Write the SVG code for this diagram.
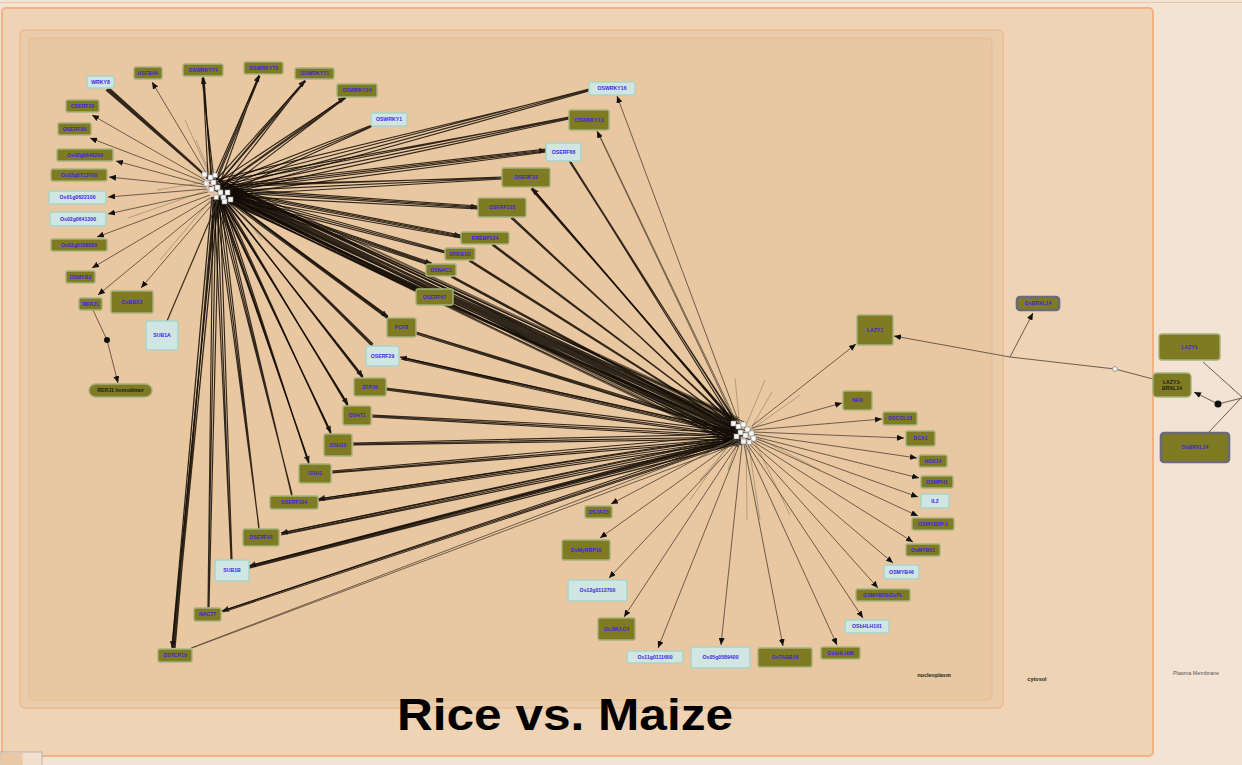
<svg xmlns="http://www.w3.org/2000/svg" width="1242" height="765" viewBox="0 0 1242 765">
  <style>
    .o { fill: #7f7b22; stroke: #a4b27c; stroke-width: 1.4; }
    .b { fill: #cfe6e2; stroke: #a9d5c8; stroke-width: 1.4; }
    .g { fill: #7f7b22; stroke: #6d6a78; stroke-width: 2.6; }
    .l { font-family: "Liberation Sans", Arial, sans-serif; font-size: 5.2px; font-weight: bold; fill: #3d1fe0; text-anchor: middle; }
    .dk { fill: #1a1a1a; }
    .bd { stroke: #120c05; stroke-width: 1.15; fill: none; opacity: 0.86; }
    .tn { stroke: #5f503f; stroke-width: 0.9; fill: none; }
    .st { stroke: #8a7560; stroke-width: 1; fill: none; opacity: 0.55; }
    .rx { stroke: #6b5d4d; stroke-width: 1; fill: none; }
    .cl { font-family: "Liberation Sans", Arial, sans-serif; font-size: 5.5px; font-weight: bold; fill: #222; text-anchor: middle; }
    .hs { fill: #fafafa; stroke: #8a8a8a; stroke-width: 0.6; }
  </style>
  <defs>
    <marker id="arr" markerWidth="7" markerHeight="6" refX="7" refY="3" orient="auto" markerUnits="userSpaceOnUse">
      <path d="M0,0 L7,3 L0,6 z" fill="#111"/>
    </marker>
  </defs>

  <!-- compartments -->
  <g id="compartments">
    <rect x="0" y="0" width="1242" height="765" fill="#f3e3d3"/>
    <line x1="0" y1="2.5" x2="1242" y2="2.5" stroke="#e4c6a8" stroke-width="1"/>
    <rect x="2" y="8" width="1151" height="748" rx="4" fill="#eed3b4" stroke="#efb383" stroke-width="2"/>
    <rect x="20" y="30" width="983" height="678" rx="5" fill="#ebccaa" stroke="#eabb92" stroke-width="1.5"/>
    <rect x="29" y="38" width="963" height="662" rx="4" fill="#e8c7a1" stroke="#e4bd96" stroke-width="1"/>
    <rect x="0" y="752" width="42" height="14" fill="#f1dfcd" stroke="#a0a0a0" stroke-width="0.7"/>
    <rect x="0.5" y="753" width="22" height="12" fill="#eac8a6"/>
    <text class="cl" x="934" y="677">nucleoplasm</text>
    <text class="cl" x="1037" y="681">cytosol</text>
    <text class="cl" x="1196" y="675" style="font-weight:normal;fill:#555">Plasma Membrane</text>
  </g>

  <!-- connectors -->
  <g id="connectors">
    <!-- short edges near the hubs -->
    <path class="st" d="M206,182L157,190M208,190L128,218M210,176L185,120M212,178L196,140M214,196L160,260M220,200L205,280M230,196L262,240"/>
    <path class="st" d="M746,432L747,520M740,433L700,480M752,436L790,515M744,430L765,380M740,428L735,378M748,432L800,395M736,434L690,500M754,436L820,470M748,440L760,520M742,430L728,470M750,430L772,392"/>

    <!-- hub to hub -->
    <path class="bd" d="M206,176L734,424M213,183L741,429M221,191L749,435M227,198L744,442M217,197L737,437M206,178L741,431M213,185L737,437M221,193L734,424M227,196L749,435M210,180L744,442M224,190L740,426M216,188L746,438M230,197L736,430M208,182L750,440M219,186L743,433M226,186L738,425M229,200L745,437M212,176L733,428M218,180L739,421M223,184L747,428M231,192L742,445M214,190L735,440M225,199L739,446M209,186L748,432M233,188L737,419M220,194L731,432"/>
    <path class="bd" style="opacity:0.6" d="M230,182L733,420M232,186L731,426M228,195L736,444M232,198L733,440M235,190L739,418M226,200L738,447M236,196L730,436M234,184L744,422"/>

    <!-- left hub, upper targets -->
    <path class="bd" style="stroke-width:1.3" d="M204,175L107,89M207,177L108,89M209,179L106,90M211,180L109,88"/>
    <path class="bd" d="M208,176L203,78M211,178L204,78M214,180L202,78"/>
    <line class="bd" x1="212" y1="179" x2="203" y2="77" marker-end="url(#arr)"/>
    <path class="bd" d="M214,178L259,76M217,180L260,76M220,183L258,77"/>
    <line class="bd" x1="216" y1="179" x2="259" y2="75" marker-end="url(#arr)"/>
    <path class="bd" d="M216,180L305,81M219,183L306,81M223,186L304,82"/>
    <line class="bd" x1="219" y1="182" x2="305" y2="80" marker-end="url(#arr)"/>
    <path class="bd" d="M218,182L345,98M222,186L346,98M226,189L344,99"/>
    <line class="bd" x1="222" y1="185" x2="345" y2="97" marker-end="url(#arr)"/>
    <path class="bd" d="M220,184L372,125M224,188L372,126M228,192L371,127"/>

    <!-- left hub to central targets -->
    <path class="bd" d="M220,184L589,89M224,188L589,90M228,192L589,91M215,180L589,90"/>
    <path class="bd" d="M220,185L569,117M224,189L569,118M228,193L569,119M216,182L569,118"/>
    <path class="bd" d="M221,186L546,149M225,190L546,151M229,194L546,152"/>
    <line class="bd" x1="223" y1="188" x2="546" y2="150" marker-end="url(#arr)"/>
    <path class="bd" d="M221,187L502,177M225,191L502,178M229,195L502,179M217,185L502,178"/>
    <path class="bd" d="M221,188L478,206M225,192L478,208M229,196L478,209"/>
    <line class="bd" x1="223" y1="190" x2="478" y2="207" marker-end="url(#arr)"/>
    <path class="bd" d="M222,189L461,235M226,193L461,237M230,197L461,238"/>
    <line class="bd" x1="224" y1="191" x2="461" y2="236" marker-end="url(#arr)"/>
    <path class="bd" d="M222,190L445,251M226,194L445,252M230,198L445,253"/>
    <path class="bd" d="M222,191L432,263M226,195L432,265M229,199L432,266"/>
    <line class="bd" x1="224" y1="193" x2="432" y2="264" marker-end="url(#arr)"/>
    <path class="bd" d="M221,192L418,289M225,196L418,291M228,200L418,292"/>
    <line class="bd" x1="223" y1="194" x2="418" y2="290" marker-end="url(#arr)"/>
    <path class="bd" d="M221,193L388,316M225,197L388,318M228,201L388,319"/>
    <line class="bd" x1="223" y1="195" x2="388" y2="317" marker-end="url(#arr)"/>
    <path class="bd" d="M220,194L373,344M224,198L373,346M227,201L373,347"/>
    <path class="bd" d="M220,195L363,376M223,198L363,378M226,201L363,379"/>
    <line class="bd" x1="222" y1="197" x2="363" y2="377" marker-end="url(#arr)"/>
    <path class="bd" d="M219,196L348,404M222,199L348,406M225,201L348,407"/>
    <line class="bd" x1="221" y1="198" x2="348" y2="405" marker-end="url(#arr)"/>
    <path class="bd" d="M218,196L331,432M221,199L331,434M224,201L331,435"/>
    <line class="bd" x1="220" y1="198" x2="331" y2="433" marker-end="url(#arr)"/>
    <path class="bd" d="M217,197L309,462M220,199L309,464M223,201L309,465"/>
    <line class="bd" x1="219" y1="199" x2="309" y2="463" marker-end="url(#arr)"/>
    <path class="bd" d="M216,197L292,494M219,199L292,496M222,201L292,497"/>
    <path class="bd" d="M215,197L259,527M218,199L259,529M221,201L259,530"/>
    <path class="bd" d="M214,197L231,558M217,199L231,560M220,201L232,560"/>
    <path class="bd" d="M213,197L208,606M216,199L208,608M219,201L209,607"/>
    <path class="bd" style="stroke-width:1.3" d="M212,197L172,647M215,199L173,648M218,201L174,648M214,198L175,648"/>
    <line class="bd" x1="216" y1="200" x2="172" y2="648" marker-end="url(#arr)"/>

    <!-- right hub to central targets -->
    <line class="tn" x1="741" y1="428" x2="617" y2="96" marker-end="url(#arr)"/>
    <path class="tn" d="M739,427L598,132"/>
    <line class="tn" x1="737" y1="426" x2="597" y2="131" marker-end="url(#arr)"/>
    <path class="bd" d="M734,424L570,161M738,426L571,162M741,429L569,161"/>
    <path class="bd" d="M734,424L532,188M738,427L533,189M741,429L531,189M736,425L532,189"/>
    <line class="bd" x1="737" y1="426" x2="532" y2="188" marker-end="url(#arr)"/>
    <path class="bd" d="M734,425L512,217M738,428L513,218M741,430L511,218"/>
    <path class="bd" d="M734,426L493,244M738,429L494,245M741,431L492,245"/>
    <path class="bd" d="M734,427L470,260M738,430L471,261M741,432L469,261"/>
    <path class="bd" d="M734,428L452,276M738,431L453,277M741,433L451,277"/>
    <path class="bd" d="M734,429L450,305M738,432L451,306M741,434L449,306"/>
    <path class="bd" d="M734,430L416,332M738,433L417,333M741,435L416,334"/>
    <path class="bd" d="M734,431L401,357M738,434L402,358M741,436L401,359"/>
    <line class="bd" x1="736" y1="432" x2="400" y2="357" marker-end="url(#arr)"/>
    <path class="bd" d="M734,432L386,388M738,435L387,389M741,437L386,390"/>
    <path class="bd" d="M734,433L372,415M738,436L373,416M741,438L372,417"/>
    <path class="bd" d="M734,434L353,443M738,437L354,444M741,439L353,445"/>
    <path class="bd" d="M734,435L332,471M738,438L333,472M741,440L332,473"/>
    <path class="bd" d="M735,436L318,499M738,439L319,500M741,441L318,501"/>
    <line class="bd" x1="737" y1="437" x2="318" y2="499" marker-end="url(#arr)"/>
    <path class="bd" d="M735,437L281,533M738,440L282,534M741,442L281,535"/>
    <line class="bd" x1="737" y1="438" x2="281" y2="533" marker-end="url(#arr)"/>
    <path class="bd" style="stroke-width:1.3" d="M735,438L249,566M738,441L250,567M741,443L249,568M737,439L250,566"/>
    <line class="bd" x1="737" y1="440" x2="249" y2="566" marker-end="url(#arr)"/>
    <path class="bd" d="M735,439L222,611M738,442L223,612"/>
    <line class="bd" x1="737" y1="441" x2="222" y2="611" marker-end="url(#arr)"/>
    <path class="tn" d="M736,440L191,648M739,443L192,648"/>

    <!-- left hub, outer targets -->
    <line class="tn" x1="208" y1="176" x2="152" y2="82" marker-end="url(#arr)"/>
    <line class="tn" x1="205" y1="180" x2="92" y2="115" marker-end="url(#arr)"/>
    <line class="tn" x1="205" y1="182" x2="90" y2="138" marker-end="url(#arr)"/>
    <line class="tn" x1="205" y1="185" x2="116" y2="161" marker-end="url(#arr)"/>
    <line class="tn" x1="206" y1="187" x2="109" y2="177" marker-end="url(#arr)"/>
    <line class="tn" x1="207" y1="189" x2="108" y2="197" marker-end="url(#arr)"/>
    <line class="tn" x1="208" y1="192" x2="108" y2="214" marker-end="url(#arr)"/>
    <line class="tn" x1="210" y1="195" x2="97" y2="237" marker-end="url(#arr)"/>
    <line class="tn" x1="212" y1="197" x2="92" y2="268" marker-end="url(#arr)"/>
    <line class="tn" x1="214" y1="199" x2="98" y2="295" marker-end="url(#arr)"/>
    <line class="tn" x1="216" y1="200" x2="141" y2="288" marker-end="url(#arr)"/>
    <path class="tn" style="stroke:#3a2e20;stroke-width:1.2" d="M218,201L167,321"/>

    <!-- right hub, outer targets -->
    <line class="tn" x1="752" y1="426" x2="856" y2="344" marker-end="url(#arr)"/>
    <line class="tn" x1="752" y1="428" x2="842" y2="403" marker-end="url(#arr)"/>
    <line class="tn" x1="753" y1="430" x2="882" y2="419" marker-end="url(#arr)"/>
    <line class="tn" x1="753" y1="432" x2="904" y2="438" marker-end="url(#arr)"/>
    <line class="tn" x1="752" y1="434" x2="917" y2="458" marker-end="url(#arr)"/>
    <line class="tn" x1="752" y1="436" x2="919" y2="478" marker-end="url(#arr)"/>
    <line class="tn" x1="751" y1="437" x2="918" y2="497" marker-end="url(#arr)"/>
    <line class="tn" x1="750" y1="438" x2="918" y2="516" marker-end="url(#arr)"/>
    <line class="tn" x1="749" y1="439" x2="913" y2="542" marker-end="url(#arr)"/>
    <line class="tn" x1="748" y1="440" x2="893" y2="563" marker-end="url(#arr)"/>
    <line class="tn" x1="747" y1="441" x2="878" y2="588" marker-end="url(#arr)"/>
    <line class="tn" x1="746" y1="442" x2="863" y2="618" marker-end="url(#arr)"/>
    <line class="tn" x1="745" y1="443" x2="837" y2="645" marker-end="url(#arr)"/>
    <line class="tn" x1="744" y1="444" x2="783" y2="646" marker-end="url(#arr)"/>
    <line class="tn" x1="742" y1="444" x2="721" y2="645" marker-end="url(#arr)"/>
    <line class="tn" x1="740" y1="443" x2="658" y2="648" marker-end="url(#arr)"/>
    <line class="tn" x1="739" y1="442" x2="624" y2="617" marker-end="url(#arr)"/>
    <line class="tn" x1="738" y1="441" x2="609" y2="578" marker-end="url(#arr)"/>
    <line class="tn" x1="737" y1="440" x2="600" y2="538" marker-end="url(#arr)"/>
    <line class="tn" x1="736" y1="438" x2="611" y2="504" marker-end="url(#arr)"/>

    <!-- RERJ1 dimerisation -->
    <path class="rx" d="M93,310L107,340L118,383" marker-end="url(#arr)"/>
    <circle cx="107" cy="340" r="3" fill="#111"/>

    <!-- LAZY1 / OsBRXL14 -->
    <path class="rx" d="M1153,379L1115,369L1010,357L894,336" marker-end="url(#arr)"/>
    <path class="rx" d="M1010,357L1033,313" marker-end="url(#arr)"/>
    <circle cx="1115" cy="369" r="2.5" fill="#f4f4f4" stroke="#888" stroke-width="0.8"/>
    <path class="rx" d="M1203,362L1242,397M1209,432L1242,397"/>
    <path class="rx" d="M1242,398L1218,404L1194,392" marker-end="url(#arr)"/>
    <circle cx="1218" cy="404" r="3.5" fill="#111"/>
  </g>

  <!-- collapsed hub members -->
  <g id="hub-left">
    <rect class="hs" x="202" y="172" width="5" height="5"/>
    <rect class="hs" x="208" y="175" width="5" height="5"/>
    <rect class="hs" x="213" y="173" width="4.5" height="4.5"/>
    <rect class="hs" x="204" y="181" width="5" height="5"/>
    <rect class="hs" x="211" y="180" width="5" height="5"/>
    <rect class="hs" x="215" y="185" width="5" height="5"/>
    <rect class="hs" x="209" y="187" width="5" height="5"/>
    <rect class="hs" x="218" y="190" width="5" height="5"/>
    <rect class="hs" x="221" y="195" width="5" height="5"/>
    <rect class="hs" x="225" y="190" width="5" height="5"/>
    <rect class="hs" x="222" y="199" width="5" height="5"/>
    <rect class="hs" x="228" y="197" width="5" height="5"/>
    <rect class="hs" x="214" y="195" width="4.5" height="4.5"/>
  </g>
  <g id="hub-right">
    <rect class="hs" x="731" y="421" width="5" height="5"/>
    <rect class="hs" x="736" y="424" width="5" height="5"/>
    <rect class="hs" x="741" y="422" width="5" height="5"/>
    <rect class="hs" x="745" y="427" width="5" height="5"/>
    <rect class="hs" x="738" y="430" width="5" height="5"/>
    <rect class="hs" x="743" y="433" width="5" height="5"/>
    <rect class="hs" x="749" y="431" width="5" height="5"/>
    <rect class="hs" x="751" y="436" width="5" height="5"/>
    <rect class="hs" x="734" y="434" width="5" height="5"/>
    <rect class="hs" x="741" y="439" width="5" height="5"/>
    <rect class="hs" x="747" y="440" width="4.5" height="4.5"/>
  </g>

  <!-- nodes: left hub targets -->
  <g id="n-wrky8"><rect class="b" x="87" y="76" width="27" height="12" rx="2"/><text class="l" x="100.5" y="83.8">WRKY8</text></g>
  <g id="n-hsfb4a"><rect class="o" x="134" y="67" width="28" height="12" rx="2"/><text class="l" x="148" y="74.8">HSFB4A</text></g>
  <g id="n-oswrky74"><rect class="o" x="183" y="64" width="40" height="12" rx="2"/><text class="l" x="203" y="71.8">OSWRKY74</text></g>
  <g id="n-oswrky70"><rect class="o" x="244" y="62" width="39" height="12" rx="2"/><text class="l" x="263.5" y="69.8">OSWRKY70</text></g>
  <g id="n-oswrky71"><rect class="o" x="295" y="68" width="39" height="11" rx="2"/><text class="l" x="314.5" y="75.3">OSWRKY71</text></g>
  <g id="n-oswrky24"><rect class="o" x="337" y="84" width="40" height="13" rx="2"/><text class="l" x="357" y="92.3">OSWRKY24</text></g>
  <g id="n-oswrky1"><rect class="b" x="371" y="113" width="36" height="13" rx="2"/><text class="l" x="389" y="121.3">OSWRKY1</text></g>
  <g id="n-oswrky16"><rect class="b" x="589" y="82" width="46" height="13" rx="2"/><text class="l" x="612" y="90.3">OSWRKY16</text></g>
  <g id="n-oswrky13"><rect class="o" x="569" y="110" width="40" height="20" rx="2"/><text class="l" x="589" y="121.8">OSWRKY13</text></g>
  <g id="n-oserf66"><rect class="b" x="546" y="143" width="35" height="18" rx="2"/><text class="l" x="563.5" y="153.8">OSERF66</text></g>
  <g id="n-oserf32"><rect class="o" x="502" y="168" width="48" height="19" rx="2"/><text class="l" x="526" y="179.3">OSERF32</text></g>
  <g id="n-oserf103"><rect class="o" x="478" y="198" width="48" height="19" rx="2"/><text class="l" x="502" y="209.3">OSERF103</text></g>
  <g id="n-erebp124"><rect class="o" x="461" y="232" width="48" height="12" rx="2"/><text class="l" x="485" y="239.8">EREBP124</text></g>
  <g id="n-dreb1g"><rect class="o" x="445" y="248" width="30" height="12" rx="2"/><text class="l" x="460" y="255.8">DREB1G</text></g>
  <g id="n-osnac1"><rect class="o" x="426" y="264" width="30" height="12" rx="2"/><text class="l" x="441" y="271.8">OSNAC1</text></g>
  <g id="n-oserf67"><rect class="o" x="416" y="289" width="37" height="16" rx="2"/><text class="l" x="434.5" y="298.8">OSERF67</text></g>
  <g id="n-pcf8"><rect class="o" x="387" y="318" width="29" height="19" rx="2"/><text class="l" x="401.5" y="329.3">PCF8</text></g>
  <g id="n-oserf29"><rect class="b" x="366" y="346" width="33" height="20" rx="2"/><text class="l" x="382.5" y="357.8">OSERF29</text></g>
  <g id="n-zfp36"><rect class="o" x="354" y="378" width="32" height="18" rx="2"/><text class="l" x="370" y="388.8">ZFP36</text></g>
  <g id="n-osh71"><rect class="o" x="343" y="406" width="28" height="19" rx="2"/><text class="l" x="357" y="417.3">OSH71</text></g>
  <g id="n-osh15"><rect class="o" x="324" y="434" width="28" height="22" rx="2"/><text class="l" x="338" y="446.8">OSH15</text></g>
  <g id="n-osh1"><rect class="o" x="299" y="464" width="32" height="19" rx="2"/><text class="l" x="315" y="475.3">OSH1</text></g>
  <g id="n-oserf104"><rect class="o" x="270" y="496" width="48" height="13" rx="2"/><text class="l" x="294" y="504.3">OSERF104</text></g>
  <g id="n-oserf61"><rect class="o" x="243" y="529" width="36" height="17" rx="2"/><text class="l" x="261" y="539.3">OSERF61</text></g>
  <g id="n-sub1b"><rect class="b" x="215" y="560" width="34" height="21" rx="2"/><text class="l" x="232" y="572.3">SUB1B</text></g>
  <g id="n-nac77"><rect class="o" x="194" y="608" width="27" height="13" rx="2"/><text class="l" x="207.5" y="616.3">NAC77</text></g>
  <g id="n-ostcp19"><rect class="o" x="158" y="649" width="34" height="13" rx="2"/><text class="l" x="175" y="657.3">OSTCP19</text></g>
  <g id="n-oserf20"><rect class="o" x="66" y="100" width="33" height="12" rx="2"/><text class="l" x="82.5" y="107.8">OSERF20</text></g>
  <g id="n-oserf99"><rect class="o" x="58" y="123" width="33" height="12" rx="2"/><text class="l" x="74.5" y="130.8">OSERF99</text></g>
  <g id="n-os02g0646200"><rect class="o" x="57" y="149" width="56" height="12" rx="2"/><text class="l" x="85" y="156.8">Os02g0646200</text></g>
  <g id="n-os03g0713700"><rect class="o" x="51" y="169" width="56" height="12" rx="2"/><text class="l" x="79" y="176.8">Os03g0713700</text></g>
  <g id="n-os01g0622100"><rect class="b" x="49" y="191" width="57" height="13" rx="2"/><text class="l" x="77.5" y="199.3">Os01g0622100</text></g>
  <g id="n-os02g0641300"><rect class="b" x="50" y="212" width="56" height="14" rx="2"/><text class="l" x="78" y="220.8">Os02g0641300</text></g>
  <g id="n-os01g0108300"><rect class="o" x="51" y="239" width="56" height="12" rx="2"/><text class="l" x="79" y="246.8">Os01g0108300</text></g>
  <g id="n-osmyb2"><rect class="o" x="66" y="271" width="29" height="12" rx="2"/><text class="l" x="80.5" y="278.8">OSMYB2</text></g>
  <g id="n-rerj1"><rect class="o" x="79" y="298" width="23" height="12" rx="2"/><text class="l" x="90.5" y="305.8">RERJ1</text></g>
  <g id="n-osbbx3"><rect class="o" x="111" y="291" width="42" height="22" rx="2"/><text class="l" x="132" y="303.8">OsBBX3</text></g>
  <g id="n-sub1a"><rect class="b" x="146" y="321" width="32" height="29" rx="2"/><text class="l" x="162" y="337.3">SUB1A</text></g>
  <g id="n-rerj1-homodimer"><rect class="o" x="89" y="384" width="63" height="13" rx="6.5"/><text class="l dk" x="120.5" y="392.3">RERJ1 homodimer</text></g>

  <!-- nodes: right hub targets -->
  <g id="n-lazy1-nucleus"><rect class="o" x="857" y="315" width="36" height="30" rx="2"/><text class="l" x="875" y="331.8">LAZY1</text></g>
  <g id="n-nhx"><rect class="o" x="843" y="391" width="29" height="19" rx="2"/><text class="l" x="857.5" y="402.3">NHX</text></g>
  <g id="n-oscol16"><rect class="o" x="883" y="412" width="34" height="13" rx="2"/><text class="l" x="900" y="420.3">OSCOL16</text></g>
  <g id="n-dca1"><rect class="o" x="906" y="431" width="29" height="15" rx="2"/><text class="l" x="920.5" y="440.3">DCA1</text></g>
  <g id="n-hox14"><rect class="o" x="919" y="455" width="28" height="12" rx="2"/><text class="l" x="933" y="462.8">HOX14</text></g>
  <g id="n-osmph1"><rect class="o" x="921" y="476" width="32" height="12" rx="2"/><text class="l" x="937" y="483.8">OSMPH1</text></g>
  <g id="n-il2"><rect class="b" x="921" y="494" width="28" height="14" rx="2"/><text class="l" x="935" y="502.8">IL2</text></g>
  <g id="n-osmyb2p1"><rect class="o" x="912" y="518" width="42" height="12" rx="2"/><text class="l" x="933" y="525.8">OSMYB2P-1</text></g>
  <g id="n-osmyb61"><rect class="o" x="906" y="544" width="34" height="12" rx="2"/><text class="l" x="923" y="551.8">OsMYB61</text></g>
  <g id="n-osmyb46"><rect class="b" x="884" y="565" width="35" height="14" rx="2"/><text class="l" x="901.5" y="573.8">OSMYB46</text></g>
  <g id="n-osmyb55"><rect class="o" x="856" y="589" width="54" height="12" rx="2"/><text class="l" x="883" y="596.8">OSMYB55/OsPL</text></g>
  <g id="n-osbhlh101"><rect class="b" x="845" y="620" width="44" height="13" rx="2"/><text class="l" x="867" y="628.3">OSbHLH101</text></g>
  <g id="n-osbhlh98"><rect class="o" x="821" y="647" width="39" height="12" rx="2"/><text class="l" x="840.5" y="654.8">OsbHLH98</text></g>
  <g id="n-ostabb16"><rect class="o" x="758" y="648" width="54" height="19" rx="2"/><text class="l" x="785" y="659.3">OsTABB16</text></g>
  <g id="n-os05g0589400"><rect class="b" x="691" y="647" width="59" height="21" rx="2"/><text class="l" x="720.5" y="659.3">Os05g0589400</text></g>
  <g id="n-os11g0111600"><rect class="b" x="627" y="651" width="56" height="12" rx="2"/><text class="l" x="655" y="658.8">Os11g0111600</text></g>
  <g id="n-osjmjc4"><rect class="o" x="598" y="618" width="37" height="22" rx="2"/><text class="l" x="616.5" y="630.8">OsJMJ-C4</text></g>
  <g id="n-os12g0113700"><rect class="b" x="568" y="580" width="59" height="21" rx="2"/><text class="l" x="597.5" y="592.3">Os12g0113700</text></g>
  <g id="n-osmyrrp10"><rect class="o" x="562" y="540" width="48" height="20" rx="2"/><text class="l" x="586" y="551.8">OsMyRRP10</text></g>
  <g id="n-osjaz3"><rect class="o" x="585" y="506" width="27" height="12" rx="2"/><text class="l" x="598.5" y="513.8">OSJAZ3</text></g>

  <!-- cytosol and membrane nodes -->
  <g id="n-osbrxl14-cytosol"><rect class="g" x="1017" y="297" width="42" height="13" rx="3"/><text class="l" x="1038" y="305.3">OsBRXL14</text></g>
  <g id="n-lazy1-membrane"><rect class="o" x="1159" y="334" width="61" height="26" rx="3"/><text class="l" x="1189.5" y="348.8">LAZY1</text></g>
  <g id="n-lazy1-brxl14"><rect class="o" x="1153" y="373" width="38" height="24" rx="4"/><text class="l dk" x="1172" y="383.5">LAZY1-</text><text class="l dk" x="1172" y="390">BRXL14</text></g>
  <g id="n-osbrxl14-membrane"><rect class="g" x="1161" y="433" width="68" height="29" rx="3"/><text class="l" x="1195" y="449.3">OsBRXL14</text></g>

  <text x="565" y="730" font-family="Liberation Sans, Arial, sans-serif" font-size="45" font-weight="bold" text-anchor="middle" fill="#000" textLength="336" lengthAdjust="spacingAndGlyphs">Rice vs. Maize</text>
</svg>
